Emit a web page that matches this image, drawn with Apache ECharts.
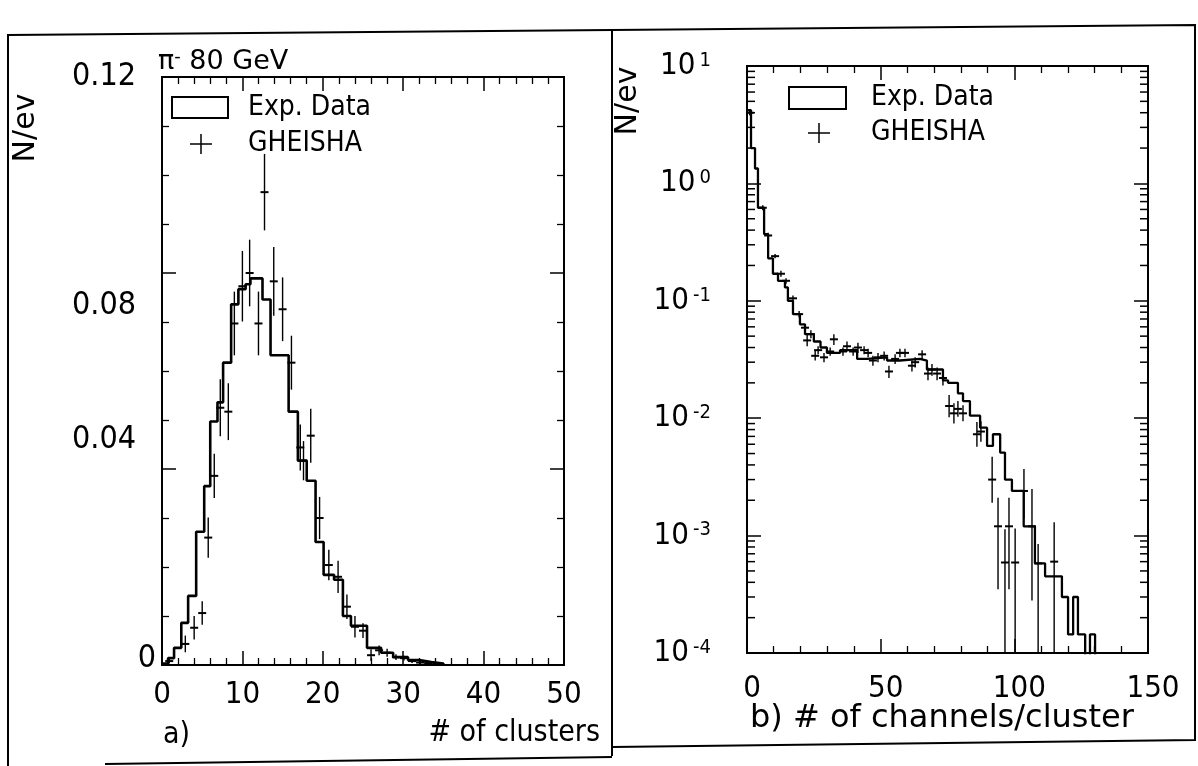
<!DOCTYPE html>
<html><head><meta charset="utf-8">
<script src="https://cdn.jsdelivr.net/npm/echarts@6/dist/echarts.min.js"></script>
<style>html,body{margin:0;padding:0;background:#fff}#c{width:1198px;height:766px}</style>
</head><body><div id="c"></div>
<script>
// ---------- Panel a) # of clusters ----------
const clusterBinStart = [0, 0.75, 1.5, 2.4, 3.25, 4.25, 5.25, 6.0, 6.9, 7.6, 8.6, 9.5, 10.4, 11.0, 12.5, 13.5, 15.75, 16.9, 18.0, 19.1, 20.1, 21.4, 22.5, 23.5, 25.5, 27.25, 28.75, 30.6, 32.0, 33.5];
const clusterExp = [0.0003, 0.0014, 0.0035, 0.0086, 0.0141, 0.0272, 0.0365, 0.0497, 0.0536, 0.0617, 0.0736, 0.0767, 0.0777, 0.0789, 0.0746, 0.0632, 0.0517, 0.0417, 0.0376, 0.0251, 0.0184, 0.0174, 0.0100, 0.0080, 0.0035, 0.0025, 0.0016, 0.0010, 0.0006, 0.0003];
const clusterBinEnd = 35;
const clusterSimX = [0.9, 2.9, 4.0, 5.0, 5.75, 6.5, 7.25, 8.25, 9.0, 10.0, 10.9, 12.0, 12.75, 13.9, 15.0, 16.1, 17.2, 17.6, 18.5, 19.6, 20.75, 21.9, 23.0, 24.0, 25.0, 26.0, 27.0, 28.0, 29.1, 30.1, 31.1, 32.1, 33.1, 34.1];
const clusterSimY = [0.0008, 0.0043, 0.0076, 0.0106, 0.026, 0.0386, 0.0525, 0.0517, 0.0697, 0.0773, 0.080, 0.0697, 0.0965, 0.0783, 0.0726, 0.0617, 0.0444, 0.0417, 0.0468, 0.030, 0.0204, 0.018, 0.0119, 0.0078, 0.007, 0.002, 0.003, 0.0025, 0.0016, 0.0014, 0.0008, 0.0005, 0.0004, 0.0002];
const clusterSimErr = [0.0005, 0.0017, 0.0024, 0.0024, 0.0041, 0.0045, 0.0058, 0.0058, 0.0065, 0.0072, 0.0068, 0.0065, 0.0078, 0.0070, 0.0065, 0.0055, 0.0047, 0.0040, 0.0055, 0.0043, 0.0031, 0.0033, 0.0025, 0.0022, 0.0015, 0.0012, 0.0010, 0.0008, 0.0006, 0.0005, 0.0004, 0.0003, 0.0003, 0.0002];
const clusterXTicks = [0, 10, 20, 30, 40, 50];
const clusterYTicks = [0, 0.04, 0.08, 0.12];

// ---------- Panel b) # of channels/cluster ----------
const chanBinStart = [0, 1.5, 3.0, 4.1, 6.4, 7.9, 9.7, 11.6, 14.2, 15.3, 17.2, 19.8, 21.7, 25.0, 27.5, 29.9, 34.8, 41.2, 44.9, 52.4, 57.2, 64.7, 67.3, 73.3, 75.2, 78.9, 80.8, 83.4, 87.2, 89.8, 92.0, 94.7, 96.5, 99.1, 103.5, 107.7, 111.5, 117.8, 120.1, 122.0, 123.8, 126.5, 128.3, 130.2];
const chanExp = [4.2, 2.0, 1.34, 0.62, 0.37, 0.23, 0.17, 0.148, 0.13, 0.10, 0.077, 0.063, 0.052, 0.045, 0.040, 0.036, 0.038, 0.032, 0.033, 0.031, 0.032, 0.031, 0.026, 0.021, 0.020, 0.0163, 0.0140, 0.0105, 0.0083, 0.0058, 0.0073, 0.0051, 0.0030, 0.0024, 0.0012, 0.00058, 0.00045, 0.00030, 0.000144, 0.00030, 0.000144, 0, 0.000144, 0];
const chanBinEnd = 150;
const chanSimX = [1.0, 5.9, 7.9, 10.5, 12.7, 14.6, 17.2, 19.5, 21.7, 22.5, 23.9, 25.5, 26.6, 28.8, 31.1, 32.5, 35.9, 37.4, 39.7, 41.5, 43.8, 45.3, 47.1, 49.0, 51.3, 53.1, 55.4, 57.2, 59.1, 61.7, 62.9, 65.5, 67.7, 69.2, 71.1, 73.3, 75.6, 77.4, 78.9, 80.8, 86.0, 87.5, 91.7, 93.9, 96.5, 98.0, 100.3, 103.6, 106.6, 108.9, 114.9];
const chanSimY = [4.0, 0.62, 0.36, 0.24, 0.17, 0.148, 0.105, 0.077, 0.059, 0.046, 0.052, 0.034, 0.038, 0.033, 0.037, 0.047, 0.037, 0.041, 0.037, 0.040, 0.038, 0.036, 0.031, 0.033, 0.034, 0.025, 0.032, 0.036, 0.036, 0.028, 0.030, 0.035, 0.024, 0.026, 0.024, 0.022, 0.0127, 0.011, 0.012, 0.011, 0.0073, 0.0077, 0.0030, 0.0012, 0.00059, 0.0012, 0.00059, 0.0024, 0.0012, 0.00058, 0.0006];
const chanSimLo = [3.8, 0.59, 0.34, 0.23, 0.16, 0.14, 0.099, 0.072, 0.055, 0.041, 0.048, 0.031, 0.035, 0.030, 0.034, 0.042, 0.034, 0.037, 0.034, 0.036, 0.035, 0.033, 0.028, 0.030, 0.031, 0.022, 0.029, 0.033, 0.033, 0.025, 0.027, 0.032, 0.021, 0.023, 0.021, 0.019, 0.0102, 0.0090, 0.0103, 0.0094, 0.0057, 0.0063, 0.0019, 0.00035, 0, 0.00035, 0, 0.0014, 0.00028, 0, 0];
const chanSimHi = [4.2, 0.65, 0.38, 0.25, 0.18, 0.156, 0.111, 0.082, 0.063, 0.052, 0.056, 0.038, 0.041, 0.036, 0.040, 0.052, 0.040, 0.045, 0.040, 0.044, 0.041, 0.039, 0.034, 0.036, 0.037, 0.028, 0.035, 0.039, 0.039, 0.031, 0.033, 0.038, 0.027, 0.029, 0.027, 0.025, 0.0158, 0.0134, 0.0140, 0.0129, 0.0093, 0.0094, 0.0047, 0.0021, 0.00113, 0.0021, 0.00115, 0.0037, 0.0025, 0.00085, 0.0013];
const chanXTicks = [0, 50, 100, 150];
const chanYDecades = [-4, -3, -2, -1, 0, 1];

// ---------- build ----------
const FONT = '"Liberation Sans Narrow","DejaVu Sans Condensed","Liberation Sans",sans-serif';
const WIDE = '"DejaVu Sans","Liberation Sans",sans-serif';
const LOG_FLOOR = 5e-5;
const chart = echarts.init(document.getElementById('c'), null, {renderer: 'canvas'});

function histPoints(starts, vals, end, floor) {
  const pts = starts.map((s, i) => [s, vals[i] > 0 ? vals[i] : floor]);
  pts.push([end, floor]);
  return pts;
}
const clusterHist = histPoints(clusterBinStart, clusterExp, clusterBinEnd, 0);
const chanHist = histPoints(chanBinStart, chanExp, chanBinEnd, LOG_FLOOR);
const clusterSim = clusterSimX.map((x, i) => [x, clusterSimY[i], clusterSimY[i] - clusterSimErr[i], clusterSimY[i] + clusterSimErr[i]]);
const chanSim = chanSimX.map((x, i) => [x, chanSimY[i], chanSimLo[i] > 0 ? chanSimLo[i] : LOG_FLOOR, chanSimHi[i]]);

const logMinor = [];
for (let d = chanYDecades[0]; d < chanYDecades[chanYDecades.length - 1]; d++) {
  for (let m = 2; m <= 9; m++) logMinor.push([0, m * Math.pow(10, d)]);
}

function crossItem(params, api) {
  const x = api.value(0), y = api.value(1), lo = api.value(2), hi = api.value(3);
  const p = api.coord([x, y]), pl = api.coord([x, lo]), ph = api.coord([x, hi]);
  return {type: 'group', children: [
    {type: 'line', shape: {x1: p[0], y1: pl[1], x2: p[0], y2: ph[1]}, style: {stroke: '#000', lineWidth: 1.4}},
    {type: 'line', shape: {x1: p[0] - 4, y1: p[1], x2: p[0] + 4, y2: p[1]}, style: {stroke: '#000', lineWidth: 2}}
  ]};
}
function logTickItem(params, api) {
  const v = api.value(1);
  const pl = api.coord([0, v]), pr = api.coord([150, v]);
  return {type: 'group', children: [
    {type: 'line', shape: {x1: pl[0], y1: pl[1], x2: pl[0] + 8, y2: pl[1]}, style: {stroke: '#000', lineWidth: 1.5}},
    {type: 'line', shape: {x1: pr[0], y1: pr[1], x2: pr[0] - 8, y2: pr[1]}, style: {stroke: '#000', lineWidth: 1.5}}
  ]};
}

const tick = () => ({show: true, inside: true, length: 14, lineStyle: {color: '#000', width: 1.5}});
const minor = (n) => ({show: true, splitNumber: n, length: 7, lineStyle: {color: '#000', width: 1.3}});
const noAxisLine = () => ({show: false, onZero: false});
const noLine = () => ({show: false});

// label offsets seen in the reference for the linear y axis
const yLabelKey = {'0.12': 'n', '0.08': 'd', '0.04': 'u'};

const option = {
  animation: false,
  backgroundColor: '#fff',
  grid: [
    {left: 162, top: 77, width: 402, height: 588, show: true, borderColor: '#000', borderWidth: 2, backgroundColor: 'transparent'},
    {left: 747, top: 66, width: 401, height: 587, show: true, borderColor: '#000', borderWidth: 2, backgroundColor: 'transparent'}
  ],
  xAxis: [
    {gridIndex: 0, type: 'value', min: clusterXTicks[0], max: clusterXTicks[clusterXTicks.length - 1], interval: 10, position: 'bottom',
      axisLine: noAxisLine(), axisTick: tick(), minorTick: minor(5), splitLine: noLine(),
      axisLabel: {margin: 14, color: '#000', fontFamily: FONT, fontSize: 31}},
    {gridIndex: 0, type: 'value', min: 0, max: 50, interval: 10, position: 'top',
      axisLine: noAxisLine(), axisTick: tick(), minorTick: minor(5), splitLine: noLine(), axisLabel: {show: false}},
    {gridIndex: 1, type: 'value', min: chanXTicks[0], max: chanXTicks[chanXTicks.length - 1], interval: 50, position: 'bottom',
      axisLine: noAxisLine(), axisTick: tick(), minorTick: minor(5), splitLine: noLine(),
      axisLabel: {margin: 20, color: '#000', fontFamily: FONT, fontSize: 31,
        formatter: v => '{x|' + v + '}', rich: {x: {fontFamily: FONT, fontSize: 31, color: '#000', padding: [0, 0, 0, 10]}}}},
    {gridIndex: 1, type: 'value', min: 0, max: 150, interval: 50, position: 'top',
      axisLine: noAxisLine(), axisTick: tick(), minorTick: minor(5), splitLine: noLine(), axisLabel: {show: false}}
  ],
  yAxis: [
    {gridIndex: 0, type: 'value', min: clusterYTicks[0], max: clusterYTicks[clusterYTicks.length - 1], interval: 0.04, position: 'left',
      axisLine: noAxisLine(), axisTick: tick(), minorTick: minor(4), splitLine: noLine(),
      axisLabel: {margin: 4, color: '#000', fontFamily: FONT, fontSize: 32,
        formatter: v => v === 0 ? '{z|0}' : '{' + (yLabelKey[v.toFixed(2)] || 'n') + '|' + v.toFixed(2) + '}',
        rich: {
          n: {fontFamily: FONT, fontSize: 32, color: '#000', padding: [0, 22, 0, 0]},
          d: {fontFamily: FONT, fontSize: 32, color: '#000', padding: [66, 22, 0, 0]},
          u: {fontFamily: FONT, fontSize: 32, color: '#000', padding: [0, 22, 58, 0]},
          z: {fontFamily: FONT, fontSize: 32, color: '#000', padding: [0, 2, 12, 0]}}}},
    {gridIndex: 0, type: 'value', min: 0, max: 0.12, interval: 0.04, position: 'right',
      axisLine: noAxisLine(), axisTick: tick(), minorTick: minor(4), splitLine: noLine(), axisLabel: {show: false}},
    {gridIndex: 1, type: 'log', logBase: 10, min: Math.pow(10, chanYDecades[0]), max: Math.pow(10, chanYDecades[chanYDecades.length - 1]), interval: 1, position: 'left',
      axisLine: noAxisLine(), axisTick: tick(), minorTick: {show: false}, splitLine: noLine(),
      axisLabel: {margin: 36, color: '#000', fontFamily: FONT, fontSize: 31,
        formatter: v => '{b|10}{s|' + Math.round(Math.log10(v)) + '}',
        rich: {b: {fontFamily: FONT, fontSize: 31, color: '#000'}, s: {fontFamily: FONT, fontSize: 20, color: '#000', verticalAlign: 'top', padding: [0, 0, 0, 4]}}}},
    {gridIndex: 1, type: 'log', logBase: 10, min: 1e-4, max: 10, interval: 1, position: 'right',
      axisLine: noAxisLine(), axisTick: tick(), minorTick: {show: false}, splitLine: noLine(), axisLabel: {show: false}}
  ],
  series: [
    {type: 'line', xAxisIndex: 0, yAxisIndex: 0, step: 'end', data: clusterHist, showSymbol: false, symbol: 'none',
      lineStyle: {color: '#000', width: 2.6}, clip: true, z: 3},
    {type: 'custom', xAxisIndex: 0, yAxisIndex: 0, data: clusterSim, renderItem: crossItem, clip: true, z: 4},
    {type: 'line', xAxisIndex: 2, yAxisIndex: 2, step: 'end', data: chanHist, showSymbol: false, symbol: 'none',
      lineStyle: {color: '#000', width: 2.3}, clip: true, z: 3},
    {type: 'custom', xAxisIndex: 2, yAxisIndex: 2, data: chanSim, renderItem: crossItem, clip: true, z: 4},
    {type: 'custom', xAxisIndex: 2, yAxisIndex: 2, data: logMinor, renderItem: logTickItem, clip: false, z: 2}
  ],
  graphic: [
    // outer frame
    {type: 'polyline', shape: {points: [[8, 766], [8, 35], [612, 30], [1195, 25], [1195, 740], [612, 747]]}, style: {stroke: '#000', lineWidth: 2, fill: null}},
    {type: 'line', shape: {x1: 612, y1: 30, x2: 612, y2: 756}, style: {stroke: '#000', lineWidth: 2}},
    {type: 'line', shape: {x1: 105, y1: 764, x2: 612, y2: 757}, style: {stroke: '#000', lineWidth: 2}},
    // y titles
    {type: 'text', x: 26, y: 128, rotation: Math.PI / 2, style: {text: 'N/ev', font: '30px ' + WIDE, fill: '#000', textAlign: 'center', textVerticalAlign: 'middle'}},
    {type: 'text', x: 628, y: 101, rotation: Math.PI / 2, style: {text: 'N/ev', font: '30px ' + WIDE, fill: '#000', textAlign: 'center', textVerticalAlign: 'middle'}},
    // header
    {type: 'text', x: 158, y: 62, style: {text: '{a|π}{s|-}{a| 80 GeV}', fill: '#000', textVerticalAlign: 'middle',
      rich: {a: {fontFamily: WIDE, fontSize: 27, color: '#000'}, s: {fontFamily: WIDE, fontSize: 18, color: '#000', verticalAlign: 'top'}}}},
    // legend a
    {type: 'rect', shape: {x: 172, y: 97, width: 56, height: 21}, style: {stroke: '#000', lineWidth: 2, fill: null}},
    {type: 'text', x: 248, y: 108, style: {text: 'Exp. Data', font: '28px ' + FONT, fill: '#000', textVerticalAlign: 'middle'}},
    {type: 'line', shape: {x1: 190, y1: 144, x2: 212, y2: 144}, style: {stroke: '#000', lineWidth: 1.5}},
    {type: 'line', shape: {x1: 201, y1: 134, x2: 201, y2: 154}, style: {stroke: '#000', lineWidth: 1.5}},
    {type: 'text', x: 248, y: 144, style: {text: 'GHEISHA', font: '28px ' + FONT, fill: '#000', textVerticalAlign: 'middle'}},
    // legend b
    {type: 'rect', shape: {x: 789, y: 87, width: 57, height: 22}, style: {stroke: '#000', lineWidth: 2, fill: null}},
    {type: 'text', x: 871, y: 98, style: {text: 'Exp. Data', font: '28px ' + FONT, fill: '#000', textVerticalAlign: 'middle'}},
    {type: 'line', shape: {x1: 808, y1: 133, x2: 830, y2: 133}, style: {stroke: '#000', lineWidth: 1.5}},
    {type: 'line', shape: {x1: 819, y1: 123, x2: 819, y2: 143}, style: {stroke: '#000', lineWidth: 1.5}},
    {type: 'text', x: 871, y: 133, style: {text: 'GHEISHA', font: '28px ' + FONT, fill: '#000', textVerticalAlign: 'middle'}},
    // x titles
    {type: 'text', x: 163, y: 735, style: {text: 'a)', font: '30px ' + FONT, fill: '#000', textVerticalAlign: 'middle'}},
    {type: 'text', x: 600, y: 733, style: {text: '# of clusters', font: '30px ' + FONT, fill: '#000', textAlign: 'right', textVerticalAlign: 'middle'}},
    {type: 'text', x: 750, y: 719, style: {text: 'b) # of channels/cluster', font: '32px ' + WIDE, fill: '#000', textVerticalAlign: 'middle'}}
  ]
};
chart.setOption(option);
</script>
</body></html>
